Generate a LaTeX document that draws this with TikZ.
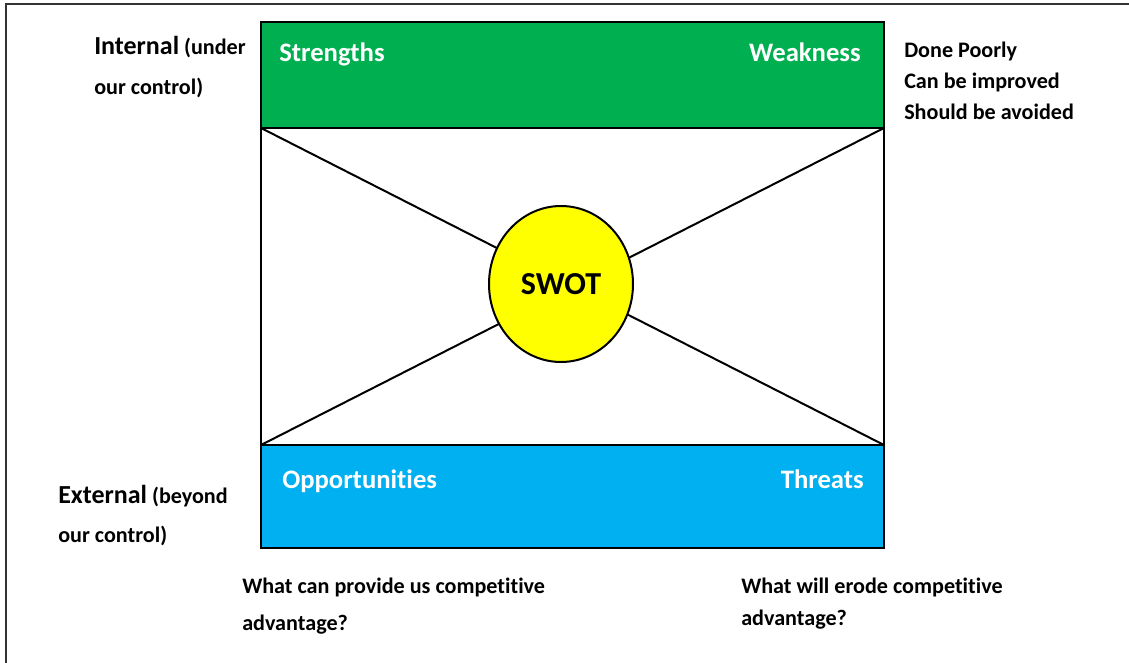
\documentclass[tikz,border=0pt]{standalone}
\usepackage{fontspec}
\setmainfont[Ligatures=NoCommon]{Carlito}
\usetikzlibrary{shapes.geometric}
\definecolor{swgreen}{HTML}{00B050}
\definecolor{otblue}{HTML}{00B0F0}
\definecolor{swotyellow}{HTML}{FFFF00}
\begin{document}
\begin{tikzpicture}[x=0.75pt,y=-0.75pt,
  quad/.style={draw=black, line width=2.2pt, minimum width=467.25pt, anchor=north west, inner sep=0pt, outer sep=0pt},
  boxlabel/.style={text=white, font=\fontsize{20}{24}\selectfont\bfseries, inner sep=0pt},
  side/.style={font=\fontsize{16.6}{20}\selectfont\bfseries, inner sep=0pt, anchor=base west},
  big/.style={font=\fontsize{19.5}{23}\selectfont\bfseries}
]
\useasboundingbox (0,0) rectangle (1129,663);
% page frame (left and top edges only)
\draw[line width=1.5pt, black!80] (6,663) -- (6,4) -- (1129,4);

% central field with its two diagonals
\node[quad, line width=1.5pt, minimum height=237.75pt] (mid) at (261,128) {};
\draw[line width=1.5pt] (mid.north west) -- (mid.south east)
                        (mid.north east) -- (mid.south west);

% internal and external bands
\node[quad, fill=swgreen, minimum height=79.5pt] (sw) at (261,22) {};
\node[quad, fill=otblue, minimum height=77.25pt] (ot) at (261,445) {};

% centre ellipse
\node[ellipse, draw, line width=1.5pt, fill=swotyellow, minimum width=108pt,
      minimum height=117pt, inner sep=0pt, font=\fontsize{24}{28}\selectfont\bfseries] (swot) at (561,284) {SWOT};

% band labels
\node[boxlabel, anchor=base west] (s) at (279,62) {Strengths};
\node[boxlabel, anchor=base east] (w) at (861,62) {Weakness};
\node[boxlabel, anchor=base west] (o) at (282,488) {Opportunities};
\node[boxlabel, anchor=base east] (t) at (864,488) {Threats};

% side notes
\node[side] (int1) at (94,55) {{\fontsize{19.5}{23}\selectfont Internal} (under};
\node[side] (int2) at (94,95) {our control)};
\node[side] (ext1) at (58,503) {{\fontsize{19.5}{23}\selectfont External} (beyond};
\node[side] (ext2) at (58,542) {our control)};

\node[side] (wk1) at (904,58) {Done Poorly};
\node[side] (wk2) at (904,89) {Can be improved};
\node[side] (wk3) at (904,120) {Should be avoided};

\node[side] (op1) at (242,593) {What can provide us competitive};
\node[side] (op2) at (242,630) {advantage?};
\node[side] (th1) at (741,593) {What will erode competitive};
\node[side] (th2) at (741,625) {advantage?};
\end{tikzpicture}
\end{document}
